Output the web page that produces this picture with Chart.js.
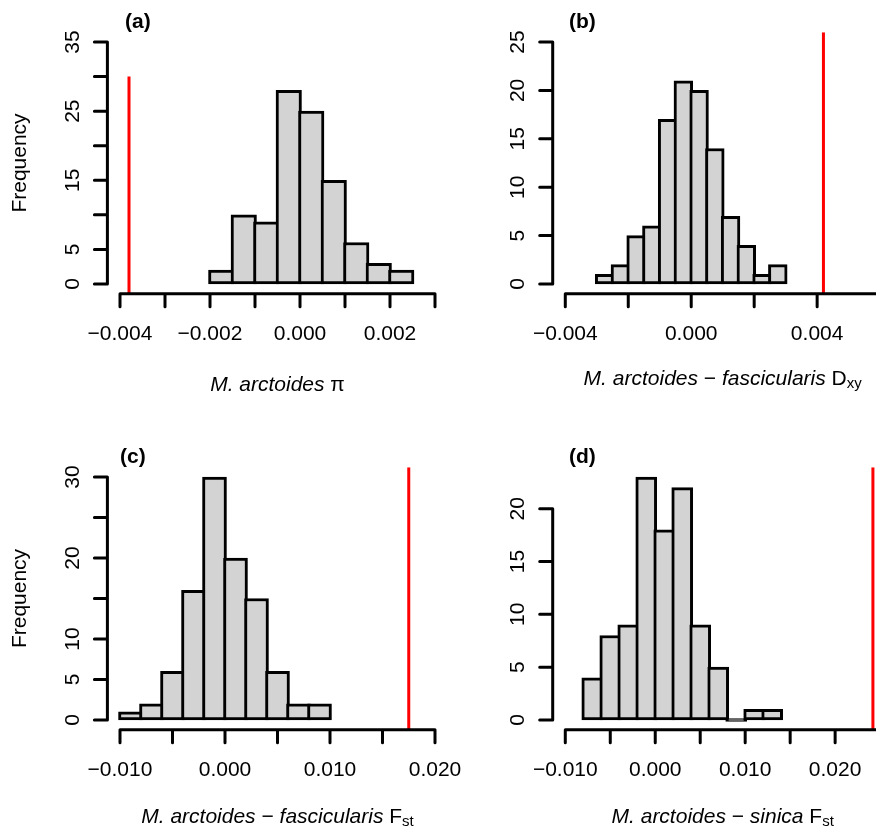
<!DOCTYPE html>
<html>
<head>
<meta charset="utf-8">
<script src="https://cdn.jsdelivr.net/npm/chart.js@4.4.1/dist/chart.umd.min.js"></script>
<style>
html, body { margin: 0; padding: 0; background: #fff; overflow: hidden; width: 876px; height: 830px; }
canvas { position: absolute; }
</style>
</head>
<body>
<canvas id="histA"></canvas>
<canvas id="histB"></canvas>
<canvas id="histC"></canvas>
<canvas id="histD"></canvas>
<script>
// histogram bins (midpoints) and counts
const midsA = [-0.00175, -0.00125, -0.00075, -0.00025, 0.00025, 0.00075, 0.00125, 0.00175, 0.00225];
const countsA = [2, 10, 9, 28, 25, 15, 6, 3, 2];
const midsB = [-0.00275, -0.00225, -0.00175, -0.00125, -0.00075, -0.00025, 0.00025, 0.00075, 0.00125, 0.00175, 0.00225, 0.00275];
const countsB = [1, 2, 5, 6, 17, 21, 20, 14, 7, 4, 1, 2];
const midsC = [-0.009, -0.007, -0.005, -0.003, -0.001, 0.001, 0.003, 0.005, 0.007, 0.009];
const countsC = [1, 2, 6, 16, 30, 20, 15, 6, 2, 2];
const midsD = [-0.007, -0.005, -0.003, -0.001, 0.001, 0.003, 0.005, 0.007, 0.009, 0.011, 0.013];
const countsD = [4, 8, 9, 23, 18, 22, 9, 5, 0, 1, 1];
const binWidths = [0.0005, 0.0005, 0.002, 0.002];

// observed values (red lines)
const observed = [-0.0038, 0.0042, 0.0175, 0.0242];
const observedTop = [30, null, null, null];

// axis ticks and the ones that get a label
const xTicksA = [-0.004, -0.003, -0.002, -0.001, 0, 0.001, 0.002, 0.003];
const xLabelsA = [-0.004, -0.002, 0, 0.002];
const xTicksB = [-0.004, -0.002, 0, 0.002, 0.004, 0.006];
const xLabelsB = [-0.004, 0, 0.004];
const xTicksC = [-0.010, -0.005, 0, 0.005, 0.010, 0.015, 0.020];
const xLabelsC = [-0.010, 0, 0.010, 0.020];
const xTicksD = [-0.010, -0.005, 0, 0.005, 0.010, 0.015, 0.020, 0.025];
const xLabelsD = [-0.010, 0, 0.010, 0.020];
const yTicksA = [0, 5, 10, 15, 20, 25, 30, 35];
const yLabelsA = [0, 5, 15, 25, 35];
const yTicksB = [0, 5, 10, 15, 20, 25];
const yLabelsB = [0, 5, 10, 15, 20, 25];
const yTicksC = [0, 5, 10, 15, 20, 25, 30];
const yLabelsC = [0, 5, 10, 20, 30];
const yTicksD = [0, 5, 10, 15, 20];
const yLabelsD = [0, 5, 10, 15, 20];

const xlims = [[-0.004, 0.003], [-0.004, 0.006], [-0.010, 0.020], [-0.010, 0.025]];
const ylims = [[0, 35], [0, 25], [0, 30], [0, 23]];

const letters = ['(a)', '(b)', '(c)', '(d)'];
const titles = [
	[['M. arctoides', 'i'], [' π', 'n']],
	[['M. arctoides', 'i'], [' − ', 'n'], ['fascicularis', 'i'], [' D', 'n'], ['xy', 's']],
	[['M. arctoides', 'i'], [' − ', 'n'], ['fascicularis', 'i'], [' F', 'n'], ['st', 's']],
	[['M. arctoides', 'i'], [' − ', 'n'], ['sinica', 'i'], [' F', 'n'], ['st', 's']]
];

const FAM = '"Liberation Sans", Arial, sans-serif';
const LW = 3;

// page layout: canvas boxes and the plot regions inside them
const boxes = [
	{left: 0, top: 0, w: 470, h: 418},
	{left: 440, top: 0, w: 460, h: 418},
	{left: 0, top: 415, w: 470, h: 415},
	{left: 440, top: 415, w: 460, h: 415}
];
const plots = [
	{l: 107.4, r: 447.6, t: 32.3, b: 293.7},
	{l: 552.7, r: 892.7, t: 32.3, b: 293.7},
	{l: 107.4, r: 447.6, t: 467.3, b: 729.7},
	{l: 552.7, r: 892.7, t: 467.3, b: 729.7}
];
const letterDx = [17.6, 16.3, 12.6, 16.3];
const titleDy = [96.8, 91.3, 93.6, 93.6];

function usr(lim){
	const w = lim[1] - lim[0];
	return [lim[0] - 0.04 * w, lim[1] + 0.04 * w];
}
function fmtX(v){
	return v.toFixed(3).replace('-', '\u2212');
}
function fontFor(k){
	if(k === 'i') return 'italic 21px ' + FAM;
	if(k === 's') return '15px ' + FAM;
	return '21px ' + FAM;
}

const rAxes = {
	id: 'rAxes',
	afterDraw(chart){
		const o = chart.options.plugins.rAxes;
		const {ctx, chartArea: a} = chart;
		const x = chart.scales.x, y = chart.scales.y;
		ctx.save();
		ctx.strokeStyle = '#000';
		ctx.fillStyle = '#000';
		ctx.lineWidth = LW;
		ctx.lineCap = 'round';
		// x axis
		const xs = o.xTicks.map(v => x.getPixelForValue(v));
		ctx.beginPath();
		ctx.moveTo(xs[0], a.bottom);
		ctx.lineTo(xs[xs.length - 1], a.bottom);
		xs.forEach(p => { ctx.moveTo(p, a.bottom); ctx.lineTo(p, a.bottom + 13); });
		// y axis
		const ys = o.yTicks.map(v => y.getPixelForValue(v));
		ctx.moveTo(a.left, ys[0]);
		ctx.lineTo(a.left, ys[ys.length - 1]);
		ys.forEach(p => { ctx.moveTo(a.left, p); ctx.lineTo(a.left - 13, p); });
		ctx.stroke();

		ctx.font = '21px ' + FAM;
		ctx.textAlign = 'center';
		ctx.textBaseline = 'alphabetic';
		o.xLabels.forEach(v => ctx.fillText(fmtX(v), x.getPixelForValue(v), a.bottom + 46));
		o.yLabels.forEach(v => {
			ctx.save();
			ctx.translate(a.left - 28.5, y.getPixelForValue(v));
			ctx.rotate(-Math.PI / 2);
			ctx.fillText(String(v), 0, 0);
			ctx.restore();
		});
		if(o.ylab){
			ctx.save();
			ctx.translate(a.left - 81.5, (a.top + a.bottom) / 2);
			ctx.rotate(-Math.PI / 2);
			ctx.fillText('Frequency', 0, 0);
			ctx.restore();
		}
		// x title with italic / subscript pieces
		ctx.textAlign = 'left';
		let total = 0;
		o.title.forEach(s => { ctx.font = fontFor(s[1]); total += ctx.measureText(s[0]).width; });
		let cx = (a.left + a.right) / 2 - total / 2;
		o.title.forEach(s => {
			ctx.font = fontFor(s[1]);
			ctx.fillText(s[0], cx, a.bottom + o.titleDy + (s[1] === 's' ? 3 : 0));
			cx += ctx.measureText(s[0]).width;
		});
		// panel letter
		ctx.font = 'bold 21px ' + FAM;
		ctx.fillText(o.letter, a.left + o.letterDx, a.top - 4);
		ctx.restore();
	}
};

const mids = [midsA, midsB, midsC, midsD];
const counts = [countsA, countsB, countsC, countsD];
const xTicks = [xTicksA, xTicksB, xTicksC, xTicksD];
const xLabels = [xLabelsA, xLabelsB, xLabelsC, xLabelsD];
const yTicks = [yTicksA, yTicksB, yTicksC, yTicksD];
const yLabels = [yLabelsA, yLabelsB, yLabelsC, yLabelsD];
const ids = ['histA', 'histB', 'histC', 'histD'];

ids.forEach((id, i) => {
	const box = boxes[i], p = plots[i];
	const cv = document.getElementById(id);
	cv.width = box.w;
	cv.height = box.h;
	cv.style.left = box.left + 'px';
	cv.style.top = box.top + 'px';
	const xu = usr(xlims[i]), yu = usr(ylims[i]);
	const binPx = binWidths[i] / (xu[1] - xu[0]) * (p.r - p.l);
	const top = observedTop[i] === null ? yu[1] : observedTop[i];
	new Chart(cv, {
		type: 'bar',
		data: {
			datasets: [
				{
					type: 'line',
					data: [{x: observed[i], y: yu[0]}, {x: observed[i], y: top}],
					borderColor: '#ff0000',
					borderWidth: 3,
					pointRadius: 0,
					order: 0
				},
				{
					data: mids[i].map((m, k) => ({x: m, y: counts[i][k]})),
					backgroundColor: '#d3d3d3',
					borderColor: '#000',
					borderWidth: LW,
					borderSkipped: false,
					minBarLength: LW,
					barThickness: binPx + LW,
					order: 1
				}
			]
		},
		options: {
			responsive: false,
			animation: false,
			events: [],
			layout: {
				padding: {
					left: p.l - box.left,
					right: box.left + box.w - p.r,
					top: p.t - box.top,
					bottom: box.top + box.h - p.b
				}
			},
			scales: {
				x: {type: 'linear', display: false, offset: false, min: xu[0], max: xu[1]},
				y: {type: 'linear', display: false, min: yu[0], max: yu[1]}
			},
			plugins: {
				legend: {display: false},
				tooltip: {enabled: false},
				rAxes: {
					xTicks: xTicks[i], xLabels: xLabels[i],
					yTicks: yTicks[i], yLabels: yLabels[i],
					title: titles[i], titleDy: titleDy[i],
					letter: letters[i], letterDx: letterDx[i],
					ylab: i % 2 === 0
				}
			}
		},
		plugins: [rAxes]
	});
});
</script>
</body>
</html>
